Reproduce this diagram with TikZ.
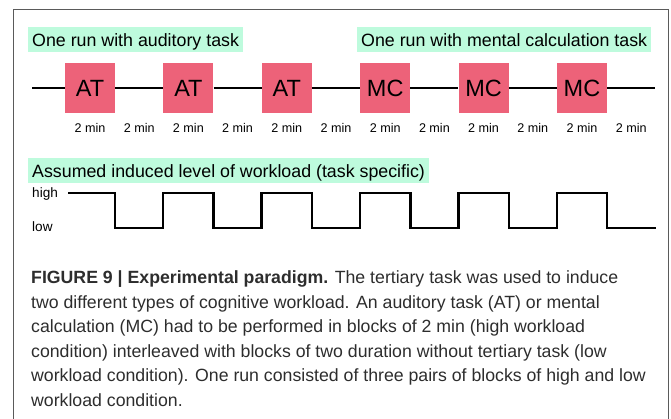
\documentclass[tikz,border=0pt]{standalone}
\usepackage{fontspec}
\setmainfont{Liberation Sans}
\newfontfamily\capfont{Liberation Sans}
\definecolor{mint}{RGB}{190,251,221}
\definecolor{taskpink}{RGB}{237,98,121}
\definecolor{framegray}{RGB}{90,90,90}
\definecolor{captext}{RGB}{45,45,45}
\begin{document}
\begin{tikzpicture}[x=1pt,y=1pt,
  tag/.style={fill=mint, inner xsep=4pt, inner ysep=0pt, text height=19.5pt, text depth=5.5pt, anchor=base west, font=\fontsize{17.8}{20}\selectfont},
  taskbox/.style={fill=taskpink, minimum size=50pt, inner sep=0pt, font=\fontsize{23.5}{24}\selectfont},
  dur/.style={anchor=base, inner sep=0pt, font=\fontsize{12.6}{14}\selectfont},
  lvl/.style={anchor=base west, inner sep=0pt, font=\fontsize{13.6}{15}\selectfont},
  tline/.style={line width=2.4pt, black},
  wave/.style={line width=2.4pt, black, line join=miter},
  capline/.style={anchor=base west, inner sep=0pt, text=captext, font=\capfont\fontsize{17.7}{20}\selectfont},
  frame/.style={line width=1pt, framegray}]
\useasboundingbox (0,0) rectangle (671,-419);
% frame
\draw[frame] (13,-419) -- (13,-10) -- (668,-10) -- (668,-419);
% top labels
\node[tag] (labAT) at (28,-46.5) {One run with auditory task};
\node[tag] (labMC) at (357,-46.5) {One run with mental calculation task};
% timeline
\coordinate (tstart) at (32,-88);
\coordinate (tend) at (655,-88);
\node[taskbox] (b1) at (90,-88) {AT};
\node[taskbox] (b2) at (188.4,-88) {AT};
\node[taskbox] (b3) at (286.8,-88) {AT};
\node[taskbox] (b4) at (385.2,-88) {MC};
\node[taskbox] (b5) at (483.6,-88) {MC};
\node[taskbox] (b6) at (582,-88) {MC};
\draw[tline] (tstart) -- (b1) -- (b2) -- (b3) -- (b4) -- (b5) -- (b6) -- (tend);
% durations
\foreach \k in {0,...,11}{
  \node[dur] (d\k) at ({90+49.2*\k},-132.5) {2 min};
}
% workload
\node[tag] (labWL) at (28,-177.5) {Assumed induced level of workload (task specific)};
\node[lvl] (high) at (32,-197.5) {high};
\node[lvl] (low) at (32,-231.5) {low};
\coordinate (hi) at (0,-193);
\coordinate (lo) at (0,-228);
\coordinate (wstart) at (68,-193);
\coordinate (wend) at (656,-228);
\draw[wave] (wstart) -- (b1.east |- hi) -- (b1.east |- lo) -- (b2.west |- lo) -- (b2.west |- hi)
  -- (b2.east |- hi) -- (b2.east |- lo) -- (b3.west |- lo) -- (b3.west |- hi)
  -- (b3.east |- hi) -- (b3.east |- lo) -- (b4.west |- lo) -- (b4.west |- hi)
  -- (b4.east |- hi) -- (b4.east |- lo) -- (b5.west |- lo) -- (b5.west |- hi)
  -- (b5.east |- hi) -- (b5.east |- lo) -- (b6.west |- lo) -- (b6.west |- hi)
  -- (b6.east |- hi) -- (b6.east |- lo) -- (wend);
% caption
\node[capline] (c1) at (31,-283.5) {\textbf{FIGURE 9 | Experimental paradigm.} The tertiary task was used to induce};
\node[capline] (c2) at (31,-308) {two different types of cognitive workload. An auditory task (AT) or mental};
\node[capline] (c3) at (31,-332.5) {calculation (MC) had to be performed in blocks of 2 min (high workload};
\node[capline] (c4) at (31,-357) {condition) interleaved with blocks of two duration without tertiary task (low};
\node[capline] (c5) at (31,-381.5) {workload condition). One run consisted of three pairs of blocks of high and low};
\node[capline] (c6) at (31,-406) {workload condition.};
\end{tikzpicture}
\end{document}
